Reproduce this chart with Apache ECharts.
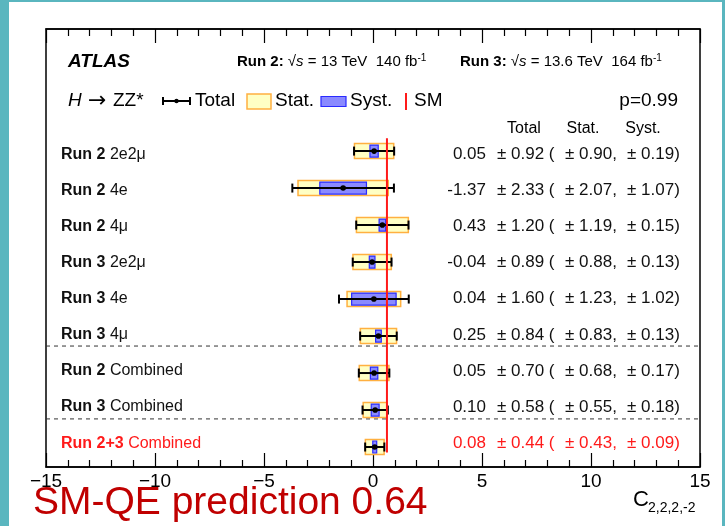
<!DOCTYPE html>
<html><head><meta charset="utf-8">
<script src="https://cdn.jsdelivr.net/npm/echarts@6/dist/echarts.min.js"></script>
<style>html,body{margin:0;padding:0;background:#fff}#c{width:725px;height:526px}</style>
</head><body><div id="c"></div>
<script>
// ---------- data ----------
const runLabels = ['Run 2','Run 2','Run 2','Run 3','Run 3','Run 3','Run 2','Run 3','Run 2+3'];
const channelLabels = ['2e2μ','4e','4μ','2e2μ','4e','4μ','Combined','Combined','Combined'];
const centralValues = [0.05,-1.37,0.43,-0.04,0.04,0.25,0.05,0.10,0.08];
const totalErrors   = [0.92, 2.33,1.20, 0.89,1.60,0.84,0.70,0.58,0.44];
const statErrors    = [0.90, 2.07,1.19, 0.88,1.23,0.83,0.68,0.55,0.43];
const systErrors    = [0.19, 1.07,0.15, 0.13,1.02,0.13,0.17,0.18,0.09];
const smPrediction = 0.64;
const smLineRows = [-0.35, 8.15];
const separatorRows = [5.27, 7.24];
const xMin = -15, xMax = 15, xStep = 5;

// ---------- style ----------
const FONT = "'Liberation Sans', Arial, Helvetica, sans-serif";
const RED = '#ff1a1a';

const rows = centralValues.map((c, i) => [c, totalErrors[i], statErrors[i], systErrors[i], i]);
const fmt = v => v.toFixed(2);

function renderBars(params, api) {
  const c = api.value(0), tot = api.value(1), st = api.value(2), sy = api.value(3), row = api.value(4);
  const y = api.coord([c, row])[1];
  const X = v => api.coord([v, row])[0];
  const xc = X(c), xs0 = X(c - st), xs1 = X(c + st), xy0 = X(c - sy), xy1 = X(c + sy), xt0 = X(c - tot), xt1 = X(c + tot);
  return {type: 'group', children: [
    {type: 'rect', shape: {x: xs0, y: y - 7.5, width: xs1 - xs0, height: 15}, style: {fill: '#ffffc4', stroke: '#ffb040', lineWidth: 1.5}},
    {type: 'rect', shape: {x: xy0, y: y - 6, width: xy1 - xy0, height: 12}, style: {fill: '#8a8aff', stroke: '#2a2aff', lineWidth: 1.2}},
    {type: 'line', shape: {x1: xt0, y1: y, x2: xt1, y2: y}, style: {stroke: '#000', lineWidth: 2}},
    {type: 'line', shape: {x1: xt0, y1: y - 4.5, x2: xt0, y2: y + 4.5}, style: {stroke: '#000', lineWidth: 2}},
    {type: 'line', shape: {x1: xt1, y1: y - 4.5, x2: xt1, y2: y + 4.5}, style: {stroke: '#000', lineWidth: 2}},
    {type: 'circle', shape: {cx: xc, cy: y, r: 2.8}, style: {fill: '#000'}}
  ]};
}

function renderTexts(params, api) {
  const i = api.value(4);
  const cs = params.coordSys;
  // text rows are spaced slightly tighter than the bars in the original
  const y = api.coord([0, 0.09 + i * 0.9756])[1];
  const right = cs.x + cs.width;
  const col = i === rows.length - 1 ? RED : '#111';
  const base = {fontFamily: FONT, fontSize: 17, fill: col, verticalAlign: 'middle'};
  return {type: 'group', children: [
    {type: 'text', x: cs.x + 15, y: y, style: {
      text: '{b|' + runLabels[i] + ' }{n|' + channelLabels[i] + '}',
      verticalAlign: 'middle', align: 'left',
      rich: {
        b: {fontFamily: FONT, fontSize: 16, fontWeight: 'bold', fill: col},
        n: {fontFamily: FONT, fontSize: 16, fill: col}
      }}},
    {type: 'text', x: right - 214, y: y, style: Object.assign({}, base, {text: fmt(api.value(0)), align: 'right'})},
    {type: 'text', x: right - 203, y: y, style: Object.assign({}, base, {text: '± ' + fmt(api.value(1)) + ' (', align: 'left'})},
    {type: 'text', x: right - 135, y: y, style: Object.assign({}, base, {text: '± ' + fmt(api.value(2)) + ',', align: 'left'})},
    {type: 'text', x: right - 73, y: y, style: Object.assign({}, base, {text: '± ' + fmt(api.value(3)) + ')', align: 'left'})}
  ]};
}

const axisCommon = {
  type: 'value', min: xMin, max: xMax, interval: xStep,
  axisLine: {show: true, onZero: false, lineStyle: {color: '#000', width: 1.5}},
  axisTick: {show: true, inside: true, length: 14, lineStyle: {color: '#000', width: 1.2}},
  minorTick: {show: true, splitNumber: 5, length: 7, lineStyle: {color: '#000', width: 1.2}},
  splitLine: {show: false}
};

const T = (x, y, text, extra) => ({type: 'text', x: x, y: y, z: 100,
  style: Object.assign({text: text, fontFamily: FONT, fontSize: 19, fill: '#000', verticalAlign: 'middle', align: 'left'}, extra || {})});

const graphics = [
  // teal frame around picture
  {type: 'rect', shape: {x: 0, y: 0, width: 9, height: 526}, style: {fill: '#5ab6bf'}, z: 200},
  {type: 'rect', shape: {x: 0, y: 0, width: 725, height: 2}, style: {fill: '#5ab6bf'}, z: 200},
  {type: 'rect', shape: {x: 722, y: 0, width: 3, height: 526}, style: {fill: '#5ab6bf'}, z: 200},
  // header
  T(68, 62, 'ATLAS', {fontWeight: 'bold', fontStyle: 'italic', fontSize: 19}),
  {type: 'text', x: 237, y: 62, z: 100, style: {
    text: '{b|Run 2: }{n|√}{i|s}{n| = 13 TeV  140 fb}{s|-1}', verticalAlign: 'middle',
    rich: {
      b: {fontFamily: FONT, fontSize: 15, fontWeight: 'bold', fill: '#000'},
      n: {fontFamily: FONT, fontSize: 15, fill: '#000'},
      i: {fontFamily: FONT, fontSize: 15, fontStyle: 'italic', fill: '#000'},
      s: {fontFamily: FONT, fontSize: 10, fill: '#000', verticalAlign: 'top', padding: [0, 0, 8, 0]}
    }}},
  {type: 'text', x: 460, y: 62, z: 100, style: {
    text: '{b|Run 3: }{n|√}{i|s}{n| = 13.6 TeV  164 fb}{s|-1}', verticalAlign: 'middle',
    rich: {
      b: {fontFamily: FONT, fontSize: 15, fontWeight: 'bold', fill: '#000'},
      n: {fontFamily: FONT, fontSize: 15, fill: '#000'},
      i: {fontFamily: FONT, fontSize: 15, fontStyle: 'italic', fill: '#000'},
      s: {fontFamily: FONT, fontSize: 10, fill: '#000', verticalAlign: 'top', padding: [0, 0, 8, 0]}
    }}},
  // legend row
  T(68, 101, 'H', {fontStyle: 'italic'}),
  T(88, 101, '→', {fontFamily: "'DejaVu Sans', sans-serif", fontSize: 22}),
  T(113, 101, 'ZZ*'),
  {type: 'line', shape: {x1: 163, y1: 101, x2: 190, y2: 101}, style: {stroke: '#000', lineWidth: 2}, z: 100},
  {type: 'line', shape: {x1: 163, y1: 97, x2: 163, y2: 105}, style: {stroke: '#000', lineWidth: 2}, z: 100},
  {type: 'line', shape: {x1: 190, y1: 97, x2: 190, y2: 105}, style: {stroke: '#000', lineWidth: 2}, z: 100},
  {type: 'circle', shape: {cx: 176.5, cy: 101, r: 2.2}, style: {fill: '#000'}, z: 100},
  T(195, 101, 'Total'),
  {type: 'rect', shape: {x: 247, y: 94, width: 24, height: 15}, style: {fill: '#ffffc4', stroke: '#ffb040', lineWidth: 1.5}, z: 100},
  T(275, 101, 'Stat.'),
  {type: 'rect', shape: {x: 321, y: 96.5, width: 25, height: 10}, style: {fill: '#8a8aff', stroke: '#2a2aff', lineWidth: 1.2}, z: 100},
  T(350, 101, 'Syst.'),
  {type: 'rect', shape: {x: 405, y: 93, width: 2, height: 17}, style: {fill: RED}, z: 100},
  T(414, 101, 'SM'),
  T(678, 101, 'p=0.99', {align: 'right'}),
  // column headers
  T(524, 129, 'Total', {fontSize: 16, align: 'center'}),
  T(583, 129, 'Stat.', {fontSize: 16, align: 'center'}),
  T(643, 129, 'Syst.', {fontSize: 16, align: 'center'}),
  // axis title
  T(633, 500, 'C', {fontSize: 22}),
  T(648, 508, '2,2,2,-2', {fontSize: 14}),
  // bottom annotation
  T(33, 503, 'SM-QE prediction 0.64', {fontSize: 39, fill: '#c00000'})
];

const chart = echarts.init(document.getElementById('c'), null, {renderer: 'canvas'});
chart.setOption({
  animation: false,
  backgroundColor: '#fff',
  grid: {left: 46, right: 25, top: 29, bottom: 59, show: true, borderColor: '#000', borderWidth: 1.5, backgroundColor: 'transparent'},
  xAxis: [
    Object.assign({}, axisCommon, {position: 'bottom',
      axisLabel: {show: true, fontSize: 19, color: '#000', margin: 5, fontFamily: FONT,
        formatter: v => String(v).replace('-', '−')}}),
    Object.assign({}, axisCommon, {position: 'top', axisLabel: {show: false}})
  ],
  yAxis: [{type: 'value', min: -3.3, max: 8.54, inverse: true, show: false}],
  graphic: graphics,
  series: [
    ...separatorRows.map(r => ({
      type: 'line', data: [[xMin, r], [xMax, r]], showSymbol: false, symbol: 'none', silent: true, z: 1,
      lineStyle: {color: '#333', width: 1, type: [4, 4]}
    })),
    {type: 'custom', renderItem: renderBars, data: rows, encode: {x: 0, y: 4}, z: 2, silent: true},
    {type: 'line', data: smLineRows.map(r => [smPrediction, r]), showSymbol: false, symbol: 'none', silent: true, z: 3,
      lineStyle: {color: RED, width: 2}},
    {type: 'custom', renderItem: renderTexts, data: rows, encode: {x: 0, y: 4}, z: 4, silent: true}
  ]
});
</script></body></html>
